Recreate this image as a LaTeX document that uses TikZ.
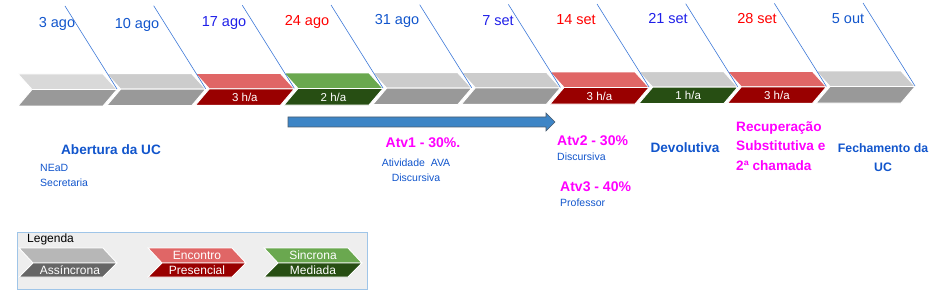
\documentclass[tikz,border=0pt]{standalone}
\usepackage{fontspec}
\setmainfont{Liberation Sans}
\definecolor{gUp}{HTML}{CCCCCC}
\definecolor{gUpA}{HTML}{D9D9D9}
\definecolor{gLo}{HTML}{999999}
\definecolor{rUp}{HTML}{E06666}
\definecolor{rLo}{HTML}{990000}
\definecolor{vUp}{HTML}{6AA84F}
\definecolor{vLo}{HTML}{274E13}
\definecolor{lgUp}{HTML}{B7B7B7}
\definecolor{lgLo}{HTML}{666666}
\definecolor{lnBlue}{HTML}{3C78D8}
\definecolor{txBlue}{HTML}{1155CC}
\definecolor{txViol}{HTML}{1F1FE8}
\definecolor{txRed}{HTML}{FF0000}
\definecolor{mag}{HTML}{FF00FF}
\definecolor{arrBlue}{HTML}{3D85C6}
\definecolor{arrEdge}{HTML}{4A5C6E}
\definecolor{legFill}{HTML}{EEEEEE}
\definecolor{legEdge}{HTML}{9FC5E8}
\tikzset{
  part/.style={draw=white, line width=0.9pt},
  datelbl/.style={font=\fontsize{14.5}{17}\selectfont, inner sep=0pt},
  halbl/.style={font=\fontsize{11.5}{13}\selectfont, text=white, inner sep=0pt},
  bigtxt/.style={font=\bfseries\fontsize{13.6}{19.5}\selectfont, inner sep=0pt},
  smalltxt/.style={font=\fontsize{10.5}{14.5}\selectfont, text=txBlue, inner sep=0pt},
  legtxt/.style={font=\fontsize{12}{14}\selectfont, text=white, inner sep=0pt},
  guide/.style={lnBlue, line width=0.6pt}
}
\begin{document}
\begin{tikzpicture}[x=1pt,y=-1pt]
\useasboundingbox (0,0) rectangle (932,294);
% timeline chevrons
\foreach \i/\cu/\cl in {0/gUpA/gLo,1/gUp/gLo,2/rUp/rLo,3/vUp/vLo,4/gUp/gLo,5/gUp/gLo,6/rUp/rLo,7/gUp/vLo,8/rUp/rLo,9/gUp/gLo}{
  \pgfmathsetmacro\xx{18+88.67*\i}
  \pgfmathsetmacro\yo{-0.33*\i}
  \begin{scope}[shift={(\xx,\yo)}]
    \path[part, fill=\cu] (0,74) -- (85,74) -- (99,89.5) -- (14,89.5) -- cycle;
    \path[part, fill=\cl] (14,89.5) -- (99,89.5) -- (85,106) -- (0,106) -- cycle;
    \coordinate (tip\i) at (99,89);
    \coordinate (lo\i) at (49.5,98);
    \coordinate (top\i) at (47,6);
  \end{scope}
}
\foreach \i in {0,...,9}{\draw[guide] (top\i) -- (tip\i);}
% dates
\node[datelbl, text=txBlue] (d0) at (57,24) {3 ago};
\node[datelbl, text=txBlue] (d1) at (137,25) {10 ago};
\node[datelbl, text=txViol] (d2) at (224,23) {17 ago};
\node[datelbl, text=txRed]  (d3) at (307,22) {24 ago};
\node[datelbl, text=txBlue] (d4) at (397,21) {31 ago};
\node[datelbl, text=txViol] (d5) at (498,21) {7 set};
\node[datelbl, text=txRed]  (d6) at (576,20) {14 set};
\node[datelbl, text=txViol] (d7) at (668,19) {21 set};
\node[datelbl, text=txRed]  (d8) at (757,19) {28 set};
\node[datelbl, text=txBlue] (d9) at (848,19) {5 out};
% hour labels
\node[halbl] (h2) at (lo2) {3 h/a};
\node[halbl] (h3) at (lo3) {2 h/a};
\node[halbl] (h6) at (lo6) {3 h/a};
\node[halbl] (h7) at (lo7) {1 h/a};
\node[halbl] (h8) at (lo8) {3 h/a};
% blue arrow
\path[fill=arrBlue, draw=arrEdge, line width=0.6pt]
  (288,117) -- (546,117) -- (546,113) -- (555,122) -- (546,131) -- (546,127) -- (288,127) -- cycle;
% texts
\node[bigtxt, text=txBlue] (ab) at (111,150) {Abertura da UC};
\node[smalltxt, anchor=west] (nead) at (40,168) {NEaD};
\node[smalltxt, anchor=west] (sec) at (40,183) {Secretaria};
\node[bigtxt, text=mag, font=\bfseries\fontsize{14}{17}\selectfont] (atv1) at (423,143) {Atv1 - 30\%.};
\node[smalltxt, align=center] (ava) at (416,170) {Atividade\ \ AVA\\Discursiva};
\node[bigtxt, text=mag, anchor=west, font=\bfseries\fontsize{14}{17}\selectfont] (atv2) at (557,141) {Atv2 - 30\%};
\node[smalltxt, anchor=west] (disc2) at (557,157) {Discursiva};
\node[bigtxt, text=mag, anchor=west, font=\bfseries\fontsize{14}{17}\selectfont] (atv3) at (560,187) {Atv3 - 40\%};
\node[smalltxt, anchor=west] (prof) at (560,203) {Professor};
\node[bigtxt, text=txBlue] (dev) at (685,148) {Devolutiva};
\node[bigtxt, text=mag, anchor=north west, align=left] (rec) at (736,121) {Recuperação\\Substitutiva e\\2ª chamada};
\node[bigtxt, text=txBlue, align=center, font=\bfseries\fontsize{12.3}{19}\selectfont] (fech) at (883,157.5) {Fechamento da\\UC};
% legend
\path[fill=legFill, draw=legEdge, line width=0.8pt] (17,232) rectangle (367,289);
\node[font=\fontsize{12}{14}\selectfont, inner sep=0pt, anchor=west] (leg) at (27,239) {Legenda};
\foreach \x/\cu/\cl/\n in {19/lgUp/lgLo/a,148/rUp/rLo/b,264/vUp/vLo/c}{
  \begin{scope}[shift={(\x,0)}]
    \path[part, fill=\cu] (0,248) -- (84,248) -- (98,263) -- (14,263) -- cycle;
    \path[part, fill=\cl] (14,263) -- (98,263) -- (84,277) -- (0,277) -- cycle;
    \coordinate (lu\n) at (49,255.5);
    \coordinate (ll\n) at (49,270);
  \end{scope}
}
\node[legtxt] (la) at ([xshift=2pt]lla) {Assíncrona};
\node[legtxt] (lb1) at (lub) {Encontro};
\node[legtxt] (lb2) at (llb) {Presencial};
\node[legtxt] (lc1) at (luc) {Sincrona};
\node[legtxt] (lc2) at (llc) {Mediada};
\end{tikzpicture}
\end{document}
